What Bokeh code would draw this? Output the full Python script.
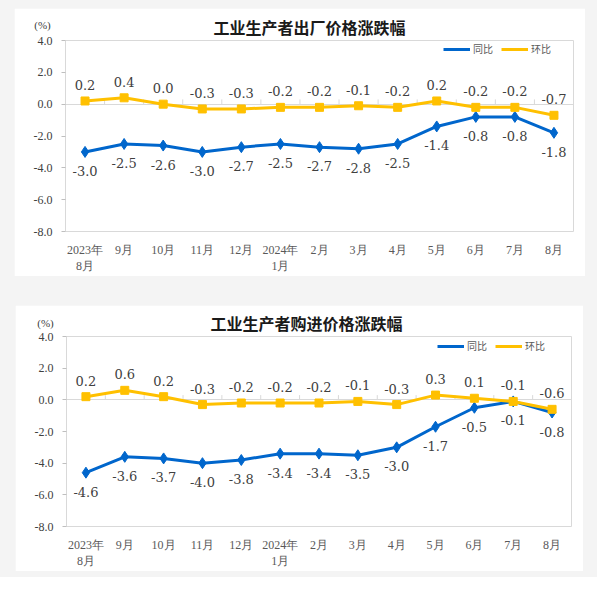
from bokeh.plotting import figure
from bokeh.models import (Label, Legend, LegendItem, FixedTicker, ColumnDataSource,
                          Range1d, PrintfTickFormatter, Title)
from bokeh.layouts import column
from bokeh.embed import file_html
from bokeh.resources import INLINE
from bokeh.core.properties import value

months = ["2023年\n8月", "9月", "10月", "11月", "12月", "2024年\n1月", "2月",
          "3月", "4月", "5月", "6月", "7月", "8月"]
out_yoy = [-3.0, -2.5, -2.6, -3.0, -2.7, -2.5, -2.7, -2.8, -2.5, -1.4, -0.8, -0.8, -1.8]
out_mom = [0.2, 0.4, 0.0, -0.3, -0.3, -0.2, -0.2, -0.1, -0.2, 0.2, -0.2, -0.2, -0.7]
in_yoy = [-4.6, -3.6, -3.7, -4.0, -3.8, -3.4, -3.4, -3.5, -3.0, -1.7, -0.5, -0.1, -0.8]
in_mom = [0.2, 0.6, 0.2, -0.3, -0.2, -0.2, -0.2, -0.1, -0.3, 0.3, 0.1, -0.1, -0.6]
y_ticks = [-8, -6, -4, -2, 0, 2, 4]
titles = ["工业生产者出厂价格涨跌幅", "工业生产者购进价格涨跌幅"]
series_names = ["同比", "环比"]
unit_text = "(%)"

BLUE = "#0066cc"
GOLD = "#ffc000"
SERIF = "Liberation Serif"
CJK = "Noto Sans CJK SC"


def make_panel(title, yoy, mom, width, height, borders, title_offset,
               unit_pos, legend_pos, margin):
    left, right, top, bottom = borders
    p = figure(width=width, height=height, output_backend="svg", toolbar_location=None,
               x_range=Range1d(-0.5, len(months) - 0.5),
               y_range=Range1d(min(y_ticks), max(y_ticks)),
               min_border_left=left, min_border_right=right,
               min_border_top=top, min_border_bottom=bottom)
    p.margin = margin
    p.background_fill_color = "white"
    p.border_fill_color = "white"
    p.outline_line_color = "#d9d9d9"
    p.outline_line_width = 1

    xs = list(range(len(months)))
    p.xaxis.ticker = FixedTicker(ticks=xs)
    p.xaxis.major_label_overrides = {i: m for i, m in enumerate(months)}
    p.xaxis.major_tick_line_color = None
    p.xaxis.minor_tick_line_color = None
    p.xaxis.axis_line_color = None
    p.xaxis.major_label_standoff = 5
    p.xaxis.major_label_text_font = SERIF
    p.xaxis.major_label_text_font_size = "12px"
    p.xaxis.major_label_text_color = "#595959"

    p.yaxis.ticker = FixedTicker(ticks=y_ticks)
    p.yaxis.formatter = PrintfTickFormatter(format="%.1f")
    p.yaxis.axis_line_color = None
    p.yaxis.major_tick_line_color = "#bfbfbf"
    p.yaxis.major_tick_out = 4
    p.yaxis.major_tick_in = 0
    p.yaxis.minor_tick_line_color = None
    p.yaxis.major_label_standoff = 9
    p.yaxis.major_label_text_font = SERIF
    p.yaxis.major_label_text_font_size = "12px"
    p.yaxis.major_label_text_color = "#404040"

    p.xgrid.grid_line_color = None
    p.ygrid.ticker = FixedTicker(ticks=[0])
    p.ygrid.grid_line_color = "#d9d9d9"

    bx = [i + 0.5 for i in range(len(months) - 1)]
    p.segment(x0=bx, y0=[0] * len(bx), x1=bx, y1=[0.3] * len(bx),
              line_color="#d9d9d9", line_width=1)

    src = ColumnDataSource(dict(x=xs, yoy=yoy, mom=mom,
                                yoy_t=[f"{v:.1f}" for v in yoy],
                                mom_t=[f"{v:.1f}" for v in mom]))

    l1 = p.line("x", "yoy", source=src, line_color=BLUE, line_width=3)
    p.scatter("x", "yoy", source=src, marker="diamond", size=11,
              fill_color=BLUE, line_color=BLUE)
    l2 = p.line("x", "mom", source=src, line_color=GOLD, line_width=3)
    p.scatter("x", "mom", source=src, marker="square", size=8,
              fill_color=GOLD, line_color=GOLD)

    p.text("x", "yoy", text="yoy_t", source=src, y_offset=19,
           text_align="center", text_baseline="middle",
           text_font=value("DejaVu Serif"), text_font_size="13px", text_color="#404040")
    p.text("x", "mom", text="mom_t", source=src, y_offset=-16,
           text_align="center", text_baseline="middle",
           text_font=value("DejaVu Serif"), text_font_size="13px", text_color="#404040")

    legend = Legend(items=[LegendItem(label=series_names[0], renderers=[l1]),
                           LegendItem(label=series_names[1], renderers=[l2])],
                    orientation="horizontal", location=legend_pos,
                    padding=0, margin=0, spacing=8, glyph_width=27, glyph_height=14,
                    label_height=14, label_standoff=3,
                    background_fill_alpha=0, border_line_color=None,
                    label_text_font=CJK, label_text_font_size="10px",
                    label_text_color="#595959")
    p.add_layout(legend)

    p.add_layout(Title(text=title, align="left", offset=title_offset, standoff=3,
                       text_font=CJK, text_font_style="bold", text_font_size="16px",
                       text_color="#1a1a1a"), "above")

    p.add_layout(Label(x=unit_pos[0], y=unit_pos[1], x_units="screen", y_units="screen",
                       text=unit_text, text_align="center", text_baseline="middle",
                       text_font=SERIF, text_font_size="11px", text_color="#404040"),
                 "left")
    return p


p1 = make_panel(titles[0], out_yoy, out_mom, 571, 268, (50, 12, 32, 38),
                148, (28, 207), (378, 175), (8, 0, 0, 14))
p2 = make_panel(titles[1], in_yoy, in_mom, 568, 266, (50, 10, 31, 38),
                144, (30, 204), (371, 173), (29, 0, 6, 15))

layout = column(p1, p2, width=597, height=577,
                styles={"background-color": "#f4f4f4"})

open("out.html", "w").write(file_html(layout, INLINE))
